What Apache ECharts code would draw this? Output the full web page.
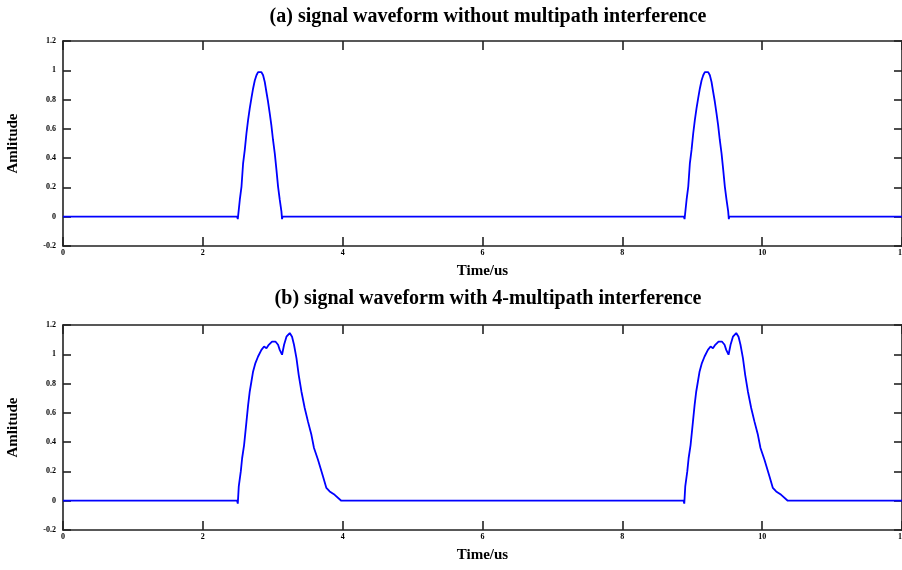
<!DOCTYPE html>
<html>
<head>
<meta charset="utf-8">
<script src="https://cdn.jsdelivr.net/npm/echarts@6/dist/echarts.min.js"></script>
<style>
  html, body { margin: 0; padding: 0; background: #fff; }
  #main { width: 902px; height: 570px; }
</style>
</head>
<body>
<div id="main"></div>
<script>
// x tick labels (shared by both panels)
let xTicks = [0, 2, 4, 6, 8, 10, 12];
let yTicks = [-0.2, 0, 0.2, 0.4, 0.6, 0.8, 1, 1.2];

// (a) without multipath: time (us) and amplitude
let timeA = [0, 2.49, 2.5, 2.529, 2.553, 2.576, 2.6, 2.624, 2.647, 2.671, 2.695, 2.719, 2.743, 2.767, 2.79, 2.814,
    2.838, 2.862, 2.886, 2.91, 2.933, 2.957, 2.98, 3.004, 3.029, 3.053, 3.076, 3.1, 3.124, 3.133, 3.14,
    8.88, 8.89, 8.919, 8.943, 8.966, 8.99, 9.014, 9.037, 9.061, 9.085, 9.109, 9.133, 9.157, 9.18, 9.204,
    9.228, 9.252, 9.276, 9.3, 9.323, 9.347, 9.37, 9.394, 9.419, 9.443, 9.466, 9.49, 9.514, 9.523, 9.53, 12];
let ampA = [0, 0, -0.016, 0.116, 0.206, 0.365, 0.456, 0.57, 0.66, 0.74, 0.81, 0.876, 0.93, 0.966, 0.988, 1.0,
    0.988, 0.966, 0.92, 0.85, 0.785, 0.705, 0.626, 0.524, 0.433, 0.32, 0.206, 0.116, 0.036, -0.016, 0,
    0, -0.016, 0.116, 0.206, 0.365, 0.456, 0.57, 0.66, 0.74, 0.81, 0.876, 0.93, 0.966, 0.988, 1.0,
    0.988, 0.966, 0.92, 0.85, 0.785, 0.705, 0.626, 0.524, 0.433, 0.32, 0.206, 0.116, 0.036, -0.016, 0, 0];

// (b) with 4-multipath
let timeB = [0, 2.49, 2.5, 2.514, 2.543, 2.562, 2.59, 2.624, 2.648, 2.671, 2.695, 2.719, 2.752, 2.79, 2.838, 2.876,
    2.91, 2.943, 2.99, 3.038, 3.076, 3.1, 3.133, 3.162, 3.196, 3.243, 3.276, 3.304, 3.339, 3.371, 3.41,
    3.457, 3.504, 3.553, 3.59, 3.647, 3.719, 3.767, 3.814, 3.886, 3.98,
    8.876, 8.886, 8.9, 8.929, 8.948, 8.976, 9.01, 9.034, 9.057, 9.081, 9.105, 9.138, 9.176, 9.224, 9.262,
    9.296, 9.329, 9.376, 9.424, 9.462, 9.486, 9.519, 9.548, 9.582, 9.629, 9.662, 9.69, 9.725, 9.757, 9.796,
    9.843, 9.89, 9.939, 9.976, 10.033, 10.105, 10.153, 10.2, 10.272, 10.366, 12];
let ampB = [0, 0, -0.02, 0.098, 0.2, 0.29, 0.38, 0.54, 0.655, 0.746, 0.814, 0.883, 0.94, 0.985, 1.03, 1.053,
    1.042, 1.065, 1.087, 1.087, 1.065, 1.03, 0.997, 1.065, 1.12, 1.145, 1.12, 1.065, 0.974, 0.86, 0.746,
    0.633, 0.54, 0.45, 0.36, 0.28, 0.166, 0.087, 0.063, 0.04, 0,
    0, -0.02, 0.098, 0.2, 0.29, 0.38, 0.54, 0.655, 0.746, 0.814, 0.883, 0.94, 0.985, 1.03, 1.053,
    1.042, 1.065, 1.087, 1.087, 1.065, 1.03, 0.997, 1.065, 1.12, 1.145, 1.12, 1.065, 0.974, 0.86, 0.746,
    0.633, 0.54, 0.45, 0.36, 0.28, 0.166, 0.087, 0.063, 0.04, 0, 0];

let titles = ['(a) signal waveform without multipath interference',
    '(b) signal waveform with 4-multipath interference'];

function zip(xs, ys) {
    let out = [];
    for (let i = 0; i < xs.length; i++) {
        out.push([xs[i], ys[i]]);
    }
    return out;
}

let serif = 'Liberation Serif';
let axisColor = '#222';
let lineStyle = {color: axisColor, width: 1.6};
let tickLabel = {fontFamily: serif, fontWeight: 'bold', fontSize: 8, color: '#000'};

function xAxes(gi) {
    return [{
        type: 'value', gridIndex: gi, position: 'bottom',
        min: xTicks[0], max: xTicks[xTicks.length - 1], interval: 2,
        name: 'Time/us', nameLocation: 'middle', nameGap: 18,
        nameTextStyle: {fontFamily: serif, fontWeight: 'bold', fontSize: 15, color: '#000'},
        axisLine: {show: true, onZero: false, lineStyle: lineStyle},
        axisTick: {show: true, inside: true, length: 9, lineStyle: lineStyle},
        axisLabel: Object.assign({margin: 3}, tickLabel),
        splitLine: {show: false}
    }, {
        type: 'value', gridIndex: gi, position: 'top',
        min: xTicks[0], max: xTicks[xTicks.length - 1], interval: 2,
        axisLine: {show: true, onZero: false, lineStyle: lineStyle},
        axisTick: {show: true, inside: true, length: 9, lineStyle: lineStyle},
        axisLabel: {show: false},
        splitLine: {show: false}
    }];
}

function yAxes(gi) {
    return [{
        type: 'value', gridIndex: gi, position: 'left',
        min: yTicks[0], max: yTicks[yTicks.length - 1], interval: 0.2,
        name: 'Amlitude', nameLocation: 'middle', nameGap: 42, nameRotate: 90,
        nameTextStyle: {fontFamily: serif, fontWeight: 'bold', fontSize: 15, color: '#000'},
        axisLine: {show: true, onZero: false, lineStyle: lineStyle},
        axisTick: {show: true, inside: true, length: 8, lineStyle: lineStyle},
        axisLabel: Object.assign({margin: 7}, tickLabel),
        splitLine: {show: false}
    }, {
        type: 'value', gridIndex: gi, position: 'right',
        min: yTicks[0], max: yTicks[yTicks.length - 1], interval: 0.2,
        axisLine: {show: true, onZero: false, lineStyle: lineStyle},
        axisTick: {show: true, inside: true, length: 8, lineStyle: lineStyle},
        axisLabel: {show: false},
        splitLine: {show: false}
    }];
}

let chart = echarts.init(document.getElementById('main'), null, {renderer: 'canvas'});
let option = {
    backgroundColor: '#fff',
    animation: false,
    title: [{
        text: titles[0], left: 483, top: 2, textAlign: 'center',
        textStyle: {fontFamily: serif, fontWeight: 'bold', fontSize: 20, color: '#000'}
    }, {
        text: titles[1], left: 483, top: 284, textAlign: 'center',
        textStyle: {fontFamily: serif, fontWeight: 'bold', fontSize: 20, color: '#000'}
    }],
    grid: [
        {left: 63, right: 0, top: 41, height: 205, outerBoundsMode: 'none', containLabel: false},
        {left: 63, right: 0, top: 325, height: 205, outerBoundsMode: 'none', containLabel: false}
    ],
    xAxis: xAxes(0).concat(xAxes(1)),
    yAxis: yAxes(0).concat(yAxes(1)),
    series: [{
        type: 'line', xAxisIndex: 0, yAxisIndex: 0,
        data: zip(timeA, ampA), showSymbol: false, symbol: 'none',
        lineStyle: {color: '#0000ff', width: 1.8}
    }, {
        type: 'line', xAxisIndex: 2, yAxisIndex: 2,
        data: zip(timeB, ampB), showSymbol: false, symbol: 'none',
        lineStyle: {color: '#0000ff', width: 1.8}
    }]
};
chart.setOption(option);
</script>
</body>
</html>
